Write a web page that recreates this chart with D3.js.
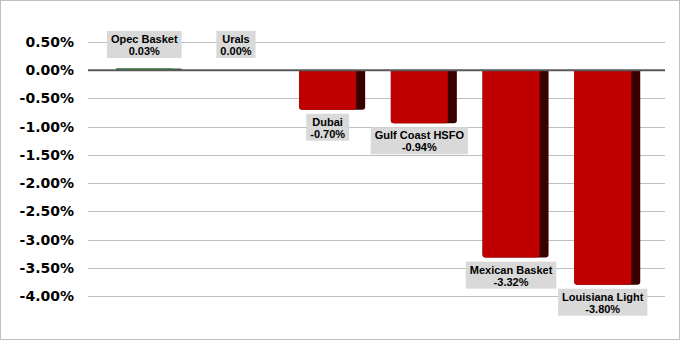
<!DOCTYPE html>
<html>
<head>
<meta charset="utf-8">
<script src="https://cdn.jsdelivr.net/npm/d3@7/dist/d3.min.js"></script>
<style>
body { margin: 0; background: #fff; }
</style>
</head>
<body>
<svg id="chart"></svg>
<script>
var categories = ['Opec Basket', 'Urals', 'Dubai', 'Gulf Coast HSFO', 'Mexican Basket', 'Louisiana Light'];
var values = [0.03, 0.00, -0.70, -0.94, -3.32, -3.80];
var tickValues = [0.5, 0, -0.5, -1, -1.5, -2, -2.5, -3, -3.5, -4];

var dims = {
	width: 681,
	height: 341,
	left: 88,
	right: 665,
	barLeft: 102,
	barRight: 654,
	side: 9,
	labelTop: 31
};

var fmt = d3.formatLocale({ decimal: '.', thousands: ',', grouping: [3], currency: ['', ''], minus: '-' }).format('.2f');
function pct(v) { return fmt(v) + '%'; }

var svg = d3.select('#chart')
	.attr('width', dims.width)
	.attr('height', dims.height);

svg.append('rect')
	.attr('x', 0.5).attr('y', 0.5)
	.attr('width', dims.width - 2).attr('height', dims.height - 2)
	.attr('fill', 'white')
	.attr('stroke', '#bfbfbf');

var y = d3.scaleLinear().domain([0.5, -4]).range([42, 296]);
var x = d3.scaleBand()
	.domain(categories)
	.range([dims.barLeft, dims.barRight])
	.paddingInner(0.28)
	.paddingOuter(0.15);

// gridlines
svg.append('g')
	.selectAll('line')
	.data(tickValues.filter(function(t) { return t !== 0; }))
	.enter().append('line')
	.attr('x1', dims.left).attr('x2', dims.right)
	.attr('y1', function(d) { return Math.round(y(d)) + 0.5; })
	.attr('y2', function(d) { return Math.round(y(d)) + 0.5; })
	.attr('stroke', '#bfbfbf');

// tick labels
svg.append('g')
	.selectAll('text')
	.data(tickValues)
	.enter().append('text')
	.attr('x', 74)
	.attr('y', function(d) { return y(d); })
	.attr('dy', '0.36em')
	.attr('text-anchor', 'end')
	.attr('font-family', 'DejaVu Sans, Verdana, sans-serif')
	.attr('font-weight', 'bold')
	.attr('font-size', 14)
	.attr('fill', '#000')
	.text(pct);

// bars
var bars = svg.append('g')
	.selectAll('g')
	.data(categories.map(function(c, i) { return { name: c, value: values[i] }; }))
	.enter().append('g');

function barPath(x0, w, y0, y1, r) {
	var dir = y1 > y0 ? 1 : -1;
	var h = Math.abs(y1 - y0);
	r = Math.min(r, h / 2, w / 2);
	return 'M' + x0 + ',' + y0 +
		'H' + (x0 + w) +
		'V' + (y1 - dir * r) +
		'Q' + (x0 + w) + ',' + y1 + ' ' + (x0 + w - r) + ',' + y1 +
		'H' + (x0 + r) +
		'Q' + x0 + ',' + y1 + ' ' + x0 + ',' + (y1 - dir * r) +
		'Z';
}

bars.filter(function(d) { return d.value !== 0; })
	.append('path')
	.attr('d', function(d) { return barPath(x(d.name), x.bandwidth(), y(0), y(d.value), 3); })
	.attr('fill', function(d) { return d.value > 0 ? '#1e5e20' : '#3a0000'; });

bars.filter(function(d) { return d.value !== 0; })
	.append('path')
	.attr('d', function(d) { return barPath(x(d.name), x.bandwidth() - dims.side, y(0), y(d.value), 3); })
	.attr('fill', function(d) { return d.value > 0 ? '#2e7d32' : '#c00000'; });

// zero line
svg.append('line')
	.attr('x1', dims.left).attr('x2', dims.right)
	.attr('y1', y(0)).attr('y2', y(0))
	.attr('stroke', '#595959')
	.attr('stroke-width', 2);

// data labels
var labels = bars.append('g')
	.attr('class', 'label');

labels.each(function(d) {
	var g = d3.select(this);
	var cx = x(d.name) + (x.bandwidth() - dims.side) / 2;
	var t1 = g.append('text').text(d.name);
	var t2 = g.append('text').text(pct(d.value));
	g.selectAll('text')
		.attr('x', cx)
		.attr('text-anchor', 'middle')
		.attr('font-family', 'Liberation Sans, Arial, sans-serif')
		.attr('font-weight', 'bold')
		.attr('font-size', 11)
		.attr('fill', '#000');
	var w = Math.max(t1.node().getComputedTextLength(), t2.node().getComputedTextLength()) + 8;
	var h = 27;
	var top = d.value < 0 ? y(d.value) + 4 : dims.labelTop;
	t1.attr('y', top + 12);
	t2.attr('y', top + 24);
	g.insert('rect', 'text')
		.attr('x', cx - w / 2)
		.attr('y', top)
		.attr('width', w)
		.attr('height', h)
		.attr('fill', '#d9d9d9');
});
</script>
</body>
</html>
